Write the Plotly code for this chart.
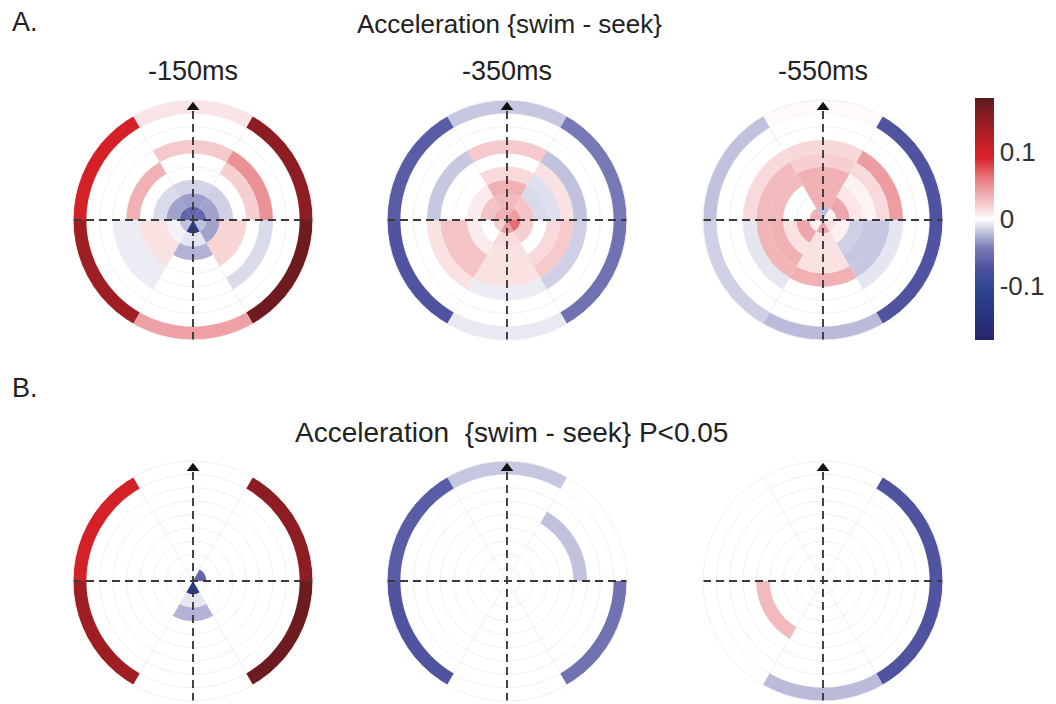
import plotly.graph_objects as go

# ---------------- data ----------------
# sector centres (deg, 0 = right, counter-clockwise), each sector 60 deg wide
sector_theta = [90, 30, -30, -90, -150, 150]
n_rings = 9
panel_titles = ["-150ms", "-350ms", "-550ms"]
cbar_ticks = [-0.1, 0, 0.1]
cbar_ticktext = ["-0.1", "0", "0.1"]

# Panel A values: one row per sector (same order as sector_theta), ring 0 (centre) .. ring 8 (outer)
A_150 = [
    [-0.060, -0.032, -0.014, 0.000, 0.000, 0.022, 0.0, 0.0, 0.011],
    [-0.058, -0.030, -0.015, 0.000, 0.020, 0.050, 0.0, 0.0, 0.150],
    [-0.020, -0.030, 0.018, 0.018, 0.000, -0.012, 0.0, 0.0, 0.170],
    [-0.125, -0.008, -0.025, 0.000, 0.000, 0.000, 0.0, 0.0, 0.043],
    [-0.020, -0.004, 0.012, 0.012, -0.006, -0.006, 0.0, 0.0, 0.137],
    [-0.060, -0.030, -0.012, 0.000, 0.035, 0.000, 0.0, 0.0, 0.100],
]
A_350 = [
    [0.035, 0.030, 0.035, 0.015, 0.000, 0.022, 0.0, 0.0, -0.018],
    [0.045, 0.025, -0.012, -0.010, 0.012, -0.020, 0.0, 0.0, -0.045],
    [0.065, 0.020, 0.000, 0.015, 0.022, -0.015, 0.0, 0.0, -0.050],
    [0.045, 0.015, 0.012, 0.012, 0.012, -0.006, 0.0, 0.0, -0.007],
    [0.020, 0.000, 0.008, 0.025, 0.025, 0.012, 0.0, 0.0, -0.072],
    [0.035, 0.025, 0.008, 0.000, 0.000, -0.018, 0.0, 0.0, -0.065],
]
A_550 = [
    [-0.020, 0.035, 0.035, 0.035, 0.020, 0.016, 0.0, 0.0, 0.002],
    [0.005, 0.040, 0.010, 0.005, 0.015, 0.045, 0.0, 0.0, -0.072],
    [0.012, 0.006, -0.015, -0.018, -0.018, -0.008, 0.0, 0.0, -0.072],
    [0.040, 0.012, 0.012, 0.012, 0.035, 0.000, 0.0, 0.0, -0.022],
    [0.005, 0.040, 0.012, 0.035, 0.032, -0.008, 0.0, 0.0, -0.015],
    [0.035, 0.000, 0.000, 0.030, 0.030, 0.015, 0.0, 0.0, -0.020],
]

# Panel B: only cells with P<0.05 (None = not significant)
N = None
B_150 = [
    [N, N, N, N, N, N, N, N, N],
    [-0.058, N, N, N, N, N, N, N, 0.150],
    [N, N, N, N, N, N, N, N, 0.170],
    [-0.125, -0.008, -0.025, N, N, N, N, N, N],
    [N, N, N, N, N, N, N, N, 0.137],
    [N, N, N, N, N, N, N, N, 0.100],
]
B_350 = [
    [N, N, N, N, N, N, N, N, -0.018],
    [N, N, N, N, N, -0.020, N, N, N],
    [N, N, N, N, N, N, N, N, -0.050],
    [N, N, N, N, N, N, N, N, N],
    [N, N, N, N, N, N, N, N, -0.072],
    [N, N, N, N, N, N, N, N, -0.065],
]
B_550 = [
    [N, N, N, N, N, N, N, N, N],
    [N, N, N, N, N, N, N, N, -0.072],
    [N, N, N, N, N, N, N, N, -0.072],
    [N, N, N, N, N, N, N, N, -0.022],
    [N, N, N, N, 0.030, N, N, N, N],
    [N, N, N, N, N, N, N, N, N],
]

panels_A = [A_150, A_350, A_550]
panels_B = [B_150, B_350, B_550]

CMIN, CMAX = -0.18, 0.18
colorscale = [
    [0.00, "#25266a"],
    [0.15, "#2a3b88"],
    [0.22, "#2e4893"],
    [0.30, "#4f53a0"],
    [0.38, "#7a7cb8"],
    [0.45, "#c6c7e0"],
    [0.50, "#ffffff"],
    [0.53, "#fbe4e5"],
    [0.57, "#f4c3c5"],
    [0.62, "#eea0a4"],
    [0.68, "#e66d72"],
    [0.75, "#d9262d"],
    [0.78, "#d42027"],
    [0.86, "#a91f24"],
    [0.93, "#861d21"],
    [1.00, "#5c1a1d"],
]

# ---------------- layout geometry ----------------
W, H = 1056, 704
R_PX = 120
centers_x = [193, 507, 823]
centers_y = [220, 581]

fig = go.Figure()


def add_panel(idx, grid):
    sub = "polar" if idx == 1 else f"polar{idx}"
    r, base, theta, col = [], [], [], []
    for s, row in enumerate(grid):
        for k, v in enumerate(row):
            if v is None or v == 0:
                continue
            r.append(1)
            base.append(k)
            theta.append(sector_theta[s])
            col.append(v)
    fig.add_trace(go.Barpolar(
        r=r, base=base, theta=theta, width=[60] * len(r),
        marker=dict(color=col, coloraxis="coloraxis", line=dict(width=0)),
        subplot=sub, showlegend=False, hoverinfo="skip",
    ))
    # dashed axes
    fig.add_trace(go.Scatterpolar(
        r=[n_rings, 0, n_rings], theta=[180, 0, 0], mode="lines",
        line=dict(color="#3a3a3a", width=1.9, dash="8px,5px"),
        subplot=sub, showlegend=False, hoverinfo="skip",
    ))
    fig.add_trace(go.Scatterpolar(
        r=[n_rings, 0, 8.3], theta=[270, 0, 90], mode="lines",
        line=dict(color="#3a3a3a", width=1.9, dash="8px,5px"),
        subplot=sub, showlegend=False, hoverinfo="skip",
    ))
    fig.add_trace(go.Scatterpolar(
        r=[8.45], theta=[90], mode="markers",
        marker=dict(symbol="triangle-up", size=11, color="#111111"),
        subplot=sub, showlegend=False, hoverinfo="skip",
    ))


idx = 1
for row_i, panels in enumerate([panels_A, panels_B]):
    for col_i, grid in enumerate(panels):
        add_panel(idx, grid)
        cx, cy = centers_x[col_i], centers_y[row_i]
        dom = dict(
            x=[(cx - R_PX) / W, (cx + R_PX) / W],
            y=[1 - (cy + R_PX) / H, 1 - (cy - R_PX) / H],
        )
        key = "polar" if idx == 1 else f"polar{idx}"
        fig.update_layout(**{key: dict(
            domain=dom,
            bgcolor="white",
            hole=0,
            radialaxis=dict(range=[0, n_rings], tickvals=list(range(1, n_rings + 1)),
                            showticklabels=False, ticks="", showline=False,
                            gridcolor="#f0f0f0", gridwidth=1),
            angularaxis=dict(tickvals=[0, 60, 120, 180, 240, 300], showticklabels=False,
                             ticks="", showline=True, linecolor="#f0f0f0", linewidth=1,
                             gridcolor="#f0f0f0", gridwidth=1,
                             direction="counterclockwise", rotation=0),
        )})
        idx += 1

font_family = "Liberation Sans, Arial, Helvetica, sans-serif"
txt_col = "#222222"
annotations = [
    dict(text="A.", x=10 / W, y=1 - 22 / H, xanchor="left", yanchor="middle", font=dict(size=27)),
    dict(text="Acceleration {swim - seek}", x=509 / W, y=1 - 24 / H, xanchor="center",
         yanchor="middle", font=dict(size=26)),
    dict(text="B.", x=10 / W, y=1 - 388 / H, xanchor="left", yanchor="middle", font=dict(size=27)),
    dict(text="Acceleration  {swim - seek} P<0.05", x=511 / W, y=1 - 432 / H, xanchor="center",
         yanchor="middle", font=dict(size=28)),
]
for t, cx in zip(panel_titles, centers_x):
    annotations.append(dict(text=t, x=cx / W, y=1 - 71 / H, xanchor="center", yanchor="middle",
                            font=dict(size=27)))
for a in annotations:
    a.update(xref="paper", yref="paper", showarrow=False)
    a["font"].update(family=font_family, color=txt_col)

fig.update_layout(
    width=W, height=H,
    margin=dict(l=0, r=0, t=0, b=0),
    paper_bgcolor="white", plot_bgcolor="white",
    font=dict(family=font_family, color=txt_col),
    annotations=annotations,
    coloraxis=dict(
        colorscale=colorscale, cmin=CMIN, cmax=CMAX,
        colorbar=dict(
            x=975 / W, xanchor="left", xref="paper",
            y=1 - 219 / H, yanchor="middle", yref="paper",
            len=242 / H, lenmode="fraction", thickness=19, thicknessmode="pixels",
            tickvals=cbar_ticks, ticktext=cbar_ticktext, ticks="",
            tickfont=dict(size=26, family=font_family, color="#333333"),
            outlinewidth=0, xpad=0, ypad=0,
        ),
    ),
)

fig.write_html("out.html")
